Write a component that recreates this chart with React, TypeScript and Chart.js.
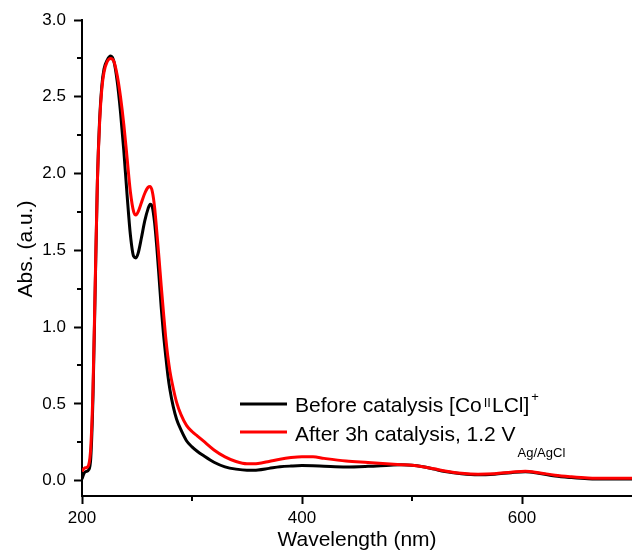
import { useEffect, useRef } from "react";
import { Chart, registerables } from "chart.js";

Chart.register(...registerables);

// Wavelength grid (nm)
const wavelengths = [
  200, 202, 204, 206, 208, 210, 212, 214, 216, 218, 220, 223, 226, 229, 232, 235, 238, 241, 244, 247,
  249, 251, 254, 257, 260, 262, 264, 266, 268, 270, 272, 274, 276, 278, 280, 283, 286, 290, 295, 300,
  305, 310, 320, 330, 340, 350, 360, 370, 380, 390, 400, 410, 420, 440, 460, 480, 490, 500, 510, 520,
  530, 545, 560, 575, 590, 603, 615, 630, 645, 660, 680, 700,
];

// Before catalysis [CoIILCl]+
const absBefore = [
  0.01, 0.05, 0.06, 0.07, 0.15, 0.55, 1.25, 1.95, 2.35, 2.57, 2.68, 2.74, 2.765, 2.73, 2.6, 2.4, 2.15, 1.86, 1.6, 1.46,
  1.45, 1.48, 1.58, 1.69, 1.77, 1.80, 1.78, 1.68, 1.52, 1.33, 1.13, 0.96, 0.82, 0.69, 0.59, 0.48, 0.40, 0.33, 0.26, 0.22,
  0.19, 0.165, 0.12, 0.09, 0.075, 0.068, 0.07, 0.08, 0.09, 0.095, 0.098, 0.097, 0.094, 0.089, 0.093, 0.10, 0.103, 0.10, 0.09, 0.075,
  0.06, 0.045, 0.038, 0.042, 0.052, 0.058, 0.048, 0.03, 0.02, 0.013, 0.011, 0.011,
];

// After 3h catalysis, 1.2 V Ag/AgCl
const absAfter = [
  0.06, 0.08, 0.085, 0.10, 0.22, 0.60, 1.28, 1.95, 2.33, 2.55, 2.66, 2.73, 2.75, 2.73, 2.64, 2.50, 2.32, 2.10, 1.88, 1.75,
  1.73, 1.75, 1.81, 1.87, 1.91, 1.915, 1.88, 1.78, 1.62, 1.45, 1.27, 1.10, 0.94, 0.81, 0.71, 0.60, 0.51, 0.43, 0.36, 0.32,
  0.29, 0.26, 0.20, 0.155, 0.125, 0.11, 0.112, 0.125, 0.14, 0.15, 0.155, 0.155, 0.145, 0.128, 0.118, 0.108, 0.104, 0.10, 0.09, 0.077,
  0.063, 0.048, 0.042, 0.045, 0.055, 0.062, 0.052, 0.035, 0.025, 0.018, 0.016, 0.016,
];

const xTickValues = [200, 400, 600];
const xMinorTicks = [300, 500];
const yTickValues = [0, 0.5, 1.0, 1.5, 2.0, 2.5, 3.0];
const yMinorTicks = [0.25, 0.75, 1.25, 1.75, 2.25, 2.75];
const xTitle = "Wavelength (nm)";
const yTitle = "Abs. (a.u.)";

const FONT = '"Liberation Sans", Arial, Helvetica, sans-serif';

const decorPlugin = {
  id: "decor",
  afterDraw(chart: any) {
    const ctx = chart.ctx as CanvasRenderingContext2D;
    const xs = chart.scales.x;
    const ys = chart.scales.y;
    const area = chart.chartArea;
    ctx.save();
    // minor ticks
    ctx.strokeStyle = "#000";
    ctx.lineWidth = 2;
    ctx.beginPath();
    for (const v of yMinorTicks) {
      const p = Math.round(ys.getPixelForValue(v));
      ctx.moveTo(area.left, p);
      ctx.lineTo(area.left - 5, p);
    }
    for (const v of xMinorTicks) {
      const p = Math.round(xs.getPixelForValue(v));
      ctx.moveTo(p, area.bottom);
      ctx.lineTo(p, area.bottom + 5);
    }
    ctx.stroke();

    // axis titles
    ctx.fillStyle = "#000";
    ctx.font = `21px ${FONT}`;
    ctx.textAlign = "center";
    ctx.textBaseline = "alphabetic";
    ctx.fillText(xTitle, (area.left + area.right) / 2, 546);
    ctx.save();
    ctx.translate(32, 249);
    ctx.rotate(-Math.PI / 2);
    ctx.fillText(yTitle, 0, 0);
    ctx.restore();

    // legend
    ctx.textAlign = "left";
    ctx.lineWidth = 3;
    ctx.strokeStyle = "#000";
    ctx.beginPath();
    ctx.moveTo(240, 404);
    ctx.lineTo(287, 404);
    ctx.stroke();
    ctx.strokeStyle = "#ff0000";
    ctx.beginPath();
    ctx.moveTo(240, 432);
    ctx.lineTo(287, 432);
    ctx.stroke();

    let x = 295;
    ctx.font = `21px ${FONT}`;
    const a = "Before catalysis [Co";
    ctx.fillText(a, x, 412);
    x += ctx.measureText(a).width + 2;
    ctx.font = `13px ${FONT}`;
    ctx.fillText("II", x, 406.5);
    x += ctx.measureText("II").width + 1;
    ctx.font = `21px ${FONT}`;
    ctx.fillText("LCl]", x, 412);
    x += ctx.measureText("LCl]").width + 2;
    ctx.font = `13px ${FONT}`;
    ctx.fillText("+", x, 401);

    x = 295;
    ctx.font = `21px ${FONT}`;
    const b = "After 3h catalysis, 1.2 V";
    ctx.fillText(b, x, 441);
    x += ctx.measureText(b).width + 2;
    ctx.font = `13px ${FONT}`;
    ctx.fillText("Ag/AgCl", x, 457);
    ctx.restore();
  },
};

export default function App() {
  const ref = useRef<HTMLCanvasElement | null>(null);
  useEffect(() => {
    document.body.style.margin = "0";
    const canvas = ref.current;
    if (!canvas) return;
    const chart = new Chart(canvas, {
      type: "line",
      data: {
        datasets: [
          {
            label: "Before catalysis",
            data: wavelengths.map((w, i) => ({ x: w, y: absBefore[i] })),
            borderColor: "#000000",
            borderWidth: 3,
            pointRadius: 0,
            cubicInterpolationMode: "monotone",
            order: 1,
          },
          {
            label: "After 3h catalysis",
            data: wavelengths.map((w, i) => ({ x: w, y: absAfter[i] })),
            borderColor: "#ff0000",
            borderWidth: 3,
            pointRadius: 0,
            cubicInterpolationMode: "monotone",
            order: 0,
          },
        ],
      },
      options: {
        animation: false,
        responsive: false,
        layout: { padding: { top: 20, right: 0, left: 0, bottom: 0 } },
        plugins: { legend: { display: false }, tooltip: { enabled: false } },
        scales: {
          x: {
            type: "linear",
            min: 200,
            max: 700,
            afterBuildTicks: (s: any) => {
              s.ticks = xTickValues.map((v) => ({ value: v }));
            },
            afterFit: (s: any) => {
              s.height = 58;
            },
            ticks: {
              color: "#000",
              font: { family: FONT, size: 17 },
              padding: 4,
              maxRotation: 0,
              callback: (v: any) => String(v),
            },
            grid: {
              display: true,
              drawOnChartArea: false,
              drawTicks: true,
              tickLength: 8,
              tickColor: "#000",
              tickWidth: 2,
            },
            border: { display: true, color: "#000", width: 2 },
          },
          y: {
            type: "linear",
            min: -0.1,
            max: 3.0,
            afterBuildTicks: (s: any) => {
              s.ticks = yTickValues.map((v) => ({ value: v }));
            },
            afterFit: (s: any) => {
              s.width = 82;
            },
            ticks: {
              color: "#000",
              font: { family: FONT, size: 17 },
              padding: 8,
              callback: (v: any) => Number(v).toFixed(1),
            },
            grid: {
              display: true,
              drawOnChartArea: false,
              drawTicks: true,
              tickLength: 8,
              tickColor: "#000",
              tickWidth: 2,
            },
            border: { display: true, color: "#000", width: 2 },
          },
        },
      },
      plugins: [decorPlugin],
    } as any);
    return () => chart.destroy();
  }, []);
  return (
    <div style={{ position: "absolute", left: 0, top: 0, width: 632, height: 554, background: "#fff" }}>
      <canvas ref={ref} width={632} height={554} style={{ display: "block" }} />
    </div>
  );
}
